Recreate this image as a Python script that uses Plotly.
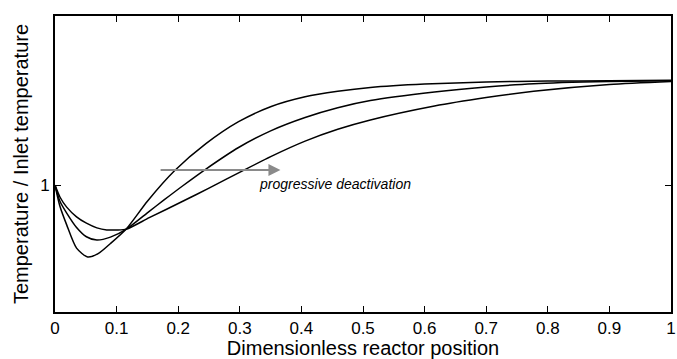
import plotly.graph_objects as go

x_a = [0, 0.008, 0.019, 0.035, 0.053, 0.07, 0.09, 0.116, 0.15, 0.194, 0.245, 0.298, 0.351, 0.406, 0.459, 0.512, 0.6, 0.7, 0.8, 0.9, 1.0]
y_a = [1.0, 0.95, 0.906, 0.851, 0.830, 0.838, 0.862, 0.897, 0.962, 1.034, 1.098, 1.150, 1.186, 1.209, 1.222, 1.231, 1.239, 1.244, 1.246, 1.247, 1.248]

x_b = [0, 0.008, 0.019, 0.035, 0.051, 0.068, 0.09, 0.116, 0.153, 0.177, 0.207, 0.245, 0.298, 0.351, 0.406, 0.459, 0.512, 0.616, 0.7, 0.777, 0.9, 1.0]
y_b = [1.0, 0.962, 0.934, 0.90, 0.878, 0.870, 0.877, 0.896, 0.938, 0.965, 0.998, 1.038, 1.089, 1.129, 1.160, 1.183, 1.200, 1.220, 1.232, 1.240, 1.245, 1.247]

x_c = [0, 0.008, 0.019, 0.035, 0.051, 0.068, 0.084, 0.1, 0.116, 0.153, 0.209, 0.25, 0.306, 0.351, 0.406, 0.459, 0.512, 0.616, 0.7, 0.777, 0.9, 1.0]
y_c = [1.0, 0.972, 0.948, 0.925, 0.910, 0.899, 0.894, 0.894, 0.896, 0.923, 0.963, 0.993, 1.035, 1.068, 1.104, 1.132, 1.154, 1.187, 1.207, 1.222, 1.238, 1.245]

x_ticks = [0, 0.1, 0.2, 0.3, 0.4, 0.5, 0.6, 0.7, 0.8, 0.9, 1]
x_tick_text = ["0", "0.1", "0.2", "0.3", "0.4", "0.5", "0.6", "0.7", "0.8", "0.9", "1"]
y_ticks = [1]
y_tick_text = ["1"]

FONT = "Liberation Sans, Arial, Helvetica, sans-serif"

fig = go.Figure()
for xs, ys in [(x_a, y_a), (x_b, y_b), (x_c, y_c)]:
    fig.add_trace(go.Scatter(x=xs, y=ys, mode="lines",
                             line=dict(color="black", width=1.5, shape="spline", smoothing=0.7),
                             showlegend=False, hoverinfo="skip"))

axis_common = dict(showline=True, linecolor="black", linewidth=1.8, mirror="ticks",
                   ticks="inside", ticklen=6, tickcolor="black", tickwidth=1.2,
                   showgrid=False, zeroline=False,
                   tickfont=dict(family=FONT, size=17, color="black"))

fig.update_xaxes(range=[0, 1], tickvals=x_ticks, ticktext=x_tick_text, ticklabeloverflow="allow",
                 title=dict(text="Dimensionless reactor position", standoff=2,
                            font=dict(family=FONT, size=20, color="black")),
                 **axis_common)
fig.update_yaxes(range=[0.7, 1.4], tickvals=y_ticks, ticktext=y_tick_text,
                 title=dict(text="Temperature / Inlet temperature", standoff=6,
                            font=dict(family=FONT, size=20, color="black")),
                 **axis_common)

fig.add_annotation(x=0.366, y=1.036, ax=0.169, ay=1.036, xref="x", yref="y", axref="x", ayref="y",
                   text="", showarrow=True, arrowhead=2, arrowsize=1.2, arrowwidth=2, arrowcolor="#8a8a8a")
fig.add_annotation(x=0.328, y=1.003, xref="x", yref="y", xanchor="left", yanchor="middle",
                   text="<i>progressive deactivation</i>", showarrow=False,
                   font=dict(family=FONT, size=14, color="black"))

fig.update_layout(width=677, height=359, margin=dict(l=55, r=1, t=16, b=47),
                  plot_bgcolor="white", paper_bgcolor="white")

fig.write_html("out.html")
